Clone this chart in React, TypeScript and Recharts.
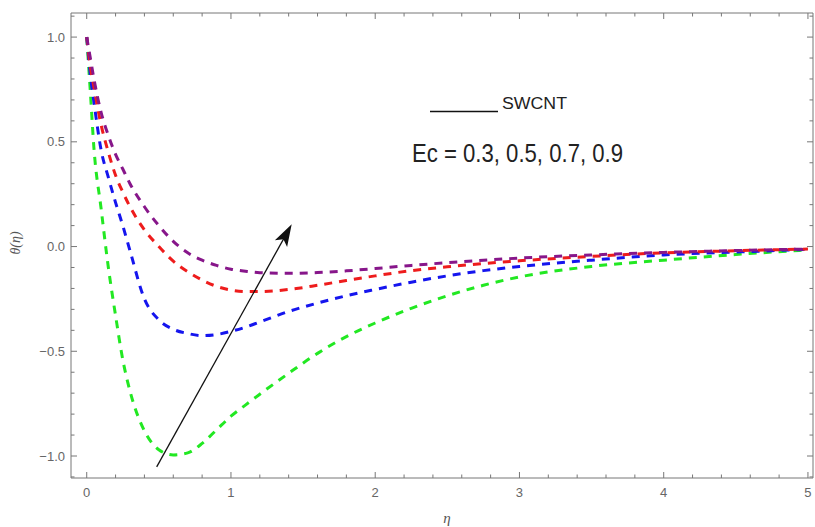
import { LineChart, Line, XAxis, YAxis, ReferenceLine } from "recharts";

// eta sample points and theta(eta) for each Ec value
const eta = [0, 0.025, 0.05, 0.1, 0.15, 0.2, 0.25, 0.3, 0.4, 0.5, 0.6, 0.7, 0.8, 0.9, 1.0, 1.1, 1.2, 1.4, 1.6, 1.8, 2.0, 2.25, 2.5, 2.75, 3.0, 3.5, 4.0, 4.5, 5.0];
const thetaEc03 = [1.0, 0.74, 0.47, 0.18, -0.1, -0.33, -0.54, -0.69, -0.88, -0.97, -0.995, -0.985, -0.94, -0.875, -0.81, -0.757, -0.705, -0.605, -0.51, -0.43, -0.365, -0.295, -0.235, -0.185, -0.145, -0.095, -0.065, -0.038, -0.016];
const thetaEc05 = [1.0, 0.82, 0.69, 0.46, 0.33, 0.21, 0.1, -0.02, -0.25, -0.35, -0.395, -0.415, -0.425, -0.42, -0.405, -0.385, -0.36, -0.31, -0.27, -0.235, -0.205, -0.17, -0.14, -0.115, -0.095, -0.065, -0.04, -0.026, -0.014];
const thetaEc07 = [1.0, 0.86, 0.76, 0.58, 0.45, 0.34, 0.26, 0.19, 0.08, 0.0, -0.07, -0.12, -0.16, -0.19, -0.208, -0.215, -0.215, -0.205, -0.185, -0.162, -0.14, -0.115, -0.097, -0.081, -0.068, -0.047, -0.03, -0.02, -0.012];
const thetaEc09 = [1.0, 0.9, 0.8, 0.64, 0.53, 0.44, 0.37, 0.3, 0.19, 0.1, 0.025, -0.03, -0.065, -0.09, -0.108, -0.118, -0.125, -0.128, -0.124, -0.116, -0.105, -0.09, -0.077, -0.065, -0.055, -0.04, -0.028, -0.019, -0.012];

const ecValues = ["0.3", "0.5", "0.7", "0.9"];
const seriesKeys = ["ec03", "ec05", "ec07", "ec09"];
const seriesColors = ["#22e822", "#1515ee", "#ee1c1c", "#87168a"];

// frame ticks: majors get labels, the rest are minor
const xTicks = [0, 0.2, 0.4, 0.6, 0.8, 1, 1.2, 1.4, 1.6, 1.8, 2, 2.2, 2.4, 2.6, 2.8, 3, 3.2, 3.4, 3.6, 3.8, 4, 4.2, 4.4, 4.6, 4.8, 5];
const yTicks = [-1.1, -1, -0.9, -0.8, -0.7, -0.6, -0.5, -0.4, -0.3, -0.2, -0.1, 0, 0.1, 0.2, 0.3, 0.4, 0.5, 0.6, 0.7, 0.8, 0.9, 1, 1.1];

// arrow showing increasing Ec
const arrowStart = { x: 0.485, y: -1.052 };
const arrowEnd = { x: 1.421, y: 0.106 };

const data = eta.map((x, i) => ({
  eta: x,
  ec03: thetaEc03[i],
  ec05: thetaEc05[i],
  ec07: thetaEc07[i],
  ec09: thetaEc09[i],
}));

const AXIS = "#777";
const TXT = "#666";
const X_DOMAIN = [-0.109, 5.035];
const Y_DOMAIN = [-1.105, 1.115];

const isInt = (v: number) => Math.abs(v - Math.round(v)) < 1e-6;
const isHalf = (v: number) => Math.abs(v * 2 - Math.round(v * 2)) < 1e-6;

function XTick(props: any) {
  const { x, y, payload, top } = props;
  const v = payload.value;
  const major = isInt(v);
  const len = major ? 6 : 3.5;
  const d = top ? 1 : -1;
  return (
    <g>
      <line x1={x} x2={x} y1={y} y2={y + d * len} stroke={AXIS} />
      {!top && major && (
        <text x={x} y={y + 19} textAnchor="middle" fill={TXT} fontSize={13} fontFamily="Liberation Sans, Arial, sans-serif">
          {v}
        </text>
      )}
    </g>
  );
}

function YTick(props: any) {
  const { x, y, payload, right } = props;
  const v = payload.value;
  const major = isHalf(v);
  const len = major ? 6 : 3.5;
  const d = right ? -1 : 1;
  return (
    <g>
      <line x1={x} x2={x + d * len} y1={y} y2={y} stroke={AXIS} />
      {!right && major && (
        <text x={x - 6} y={y + 4.5} textAnchor="end" fill={TXT} fontSize={13} fontFamily="Liberation Sans, Arial, sans-serif">
          {v.toFixed(1).replace("-", "\u2212")}
        </text>
      )}
    </g>
  );
}

function ArrowShape(props: any) {
  const { x1, y1, x2, y2 } = props;
  const dx = x2 - x1;
  const dy = y2 - y1;
  const L = Math.sqrt(dx * dx + dy * dy) || 1;
  const ux = dx / L;
  const uy = dy / L;
  const head = 22;
  const half = 7;
  const bx = x2 - ux * head;
  const by = y2 - uy * head;
  const pts = `${x2},${y2} ${bx - uy * half},${by + ux * half} ${x2 - ux * (head - 5)},${y2 - uy * (head - 5)} ${bx + uy * half},${by - ux * half}`;
  return (
    <g>
      <line x1={x1} y1={y1} x2={x2 - ux * 10} y2={y2 - uy * 10} stroke="#111" strokeWidth={1.3} />
      <polygon points={pts} fill="#111" />
    </g>
  );
}

export default function App() {
  return (
    <div style={{ position: "absolute", left: 0, top: 0, width: 815, height: 527, background: "#fff" }}>
      <LineChart width={815} height={527} data={data} margin={{ top: 12, right: 1, bottom: 48, left: 70 }}>
        <XAxis
          dataKey="eta"
          type="number"
          domain={X_DOMAIN}
          allowDataOverflow
          ticks={xTicks}
          interval={0}
          height={1}
          tickSize={0}
          tickMargin={0}
          tickLine={false}
          axisLine={{ stroke: AXIS }}
          tick={(p: any) => <XTick {...p} />}
        />
        <XAxis
          xAxisId="t"
          orientation="top"
          dataKey="eta"
          type="number"
          domain={X_DOMAIN}
          allowDataOverflow
          ticks={xTicks}
          interval={0}
          height={1}
          tickSize={0}
          tickMargin={0}
          tickLine={false}
          axisLine={{ stroke: AXIS }}
          tick={(p: any) => <XTick {...p} top />}
        />
        <YAxis
          type="number"
          domain={Y_DOMAIN}
          allowDataOverflow
          ticks={yTicks}
          interval={0}
          width={1}
          tickSize={0}
          tickMargin={0}
          tickLine={false}
          axisLine={{ stroke: AXIS }}
          tick={(p: any) => <YTick {...p} />}
        />
        <YAxis
          yAxisId="r"
          orientation="right"
          type="number"
          domain={Y_DOMAIN}
          allowDataOverflow
          ticks={yTicks}
          interval={0}
          width={1}
          tickSize={0}
          tickMargin={0}
          tickLine={false}
          axisLine={{ stroke: AXIS }}
          tick={(p: any) => <YTick {...p} right />}
        />
        {seriesKeys.map((k, i) => (
          <Line
            key={k}
            name={`Ec = ${ecValues[i]}`}
            dataKey={k}
            type="monotone"
            stroke={seriesColors[i]}
            strokeWidth={3}
            strokeDasharray="8 7"
            dot={false}
            isAnimationActive={false}
          />
        ))}
        <ReferenceLine
          segment={[arrowStart, arrowEnd]}
          ifOverflow="visible"
          shape={(p: any) => <ArrowShape {...p} />}
        />
      </LineChart>
      <svg width={815} height={527} style={{ position: "absolute", left: 0, top: 0, pointerEvents: "none" }}>
        <line x1={430} x2={498} y1={111.5} y2={111.5} stroke="#111" strokeWidth={1.5} />
        <text x={502} y={108.5} fontSize={16} fill="#222" fontFamily="Liberation Sans, Arial, sans-serif" textLength={65} lengthAdjust="spacingAndGlyphs">
          SWCNT
        </text>
        <text x={412} y={162} fontSize={26} fill="#222" fontFamily="Liberation Sans, Arial, sans-serif" textLength={211} lengthAdjust="spacingAndGlyphs">
          {`Ec = ${ecValues.join(", ")}`}
        </text>
        <text
          x={15}
          y={243}
          transform="rotate(-90 15 243)"
          textAnchor="middle"
          dominantBaseline="central"
          fontSize={14}
          fontStyle="italic"
          fill="#555"
          fontFamily="Liberation Serif, Times New Roman, serif"
        >
          θ(η)
        </text>
        <text x={447} y={523} textAnchor="middle" fontSize={15} fontStyle="italic" fill="#555" fontFamily="Liberation Serif, Times New Roman, serif">
          η
        </text>
      </svg>
    </div>
  );
}
